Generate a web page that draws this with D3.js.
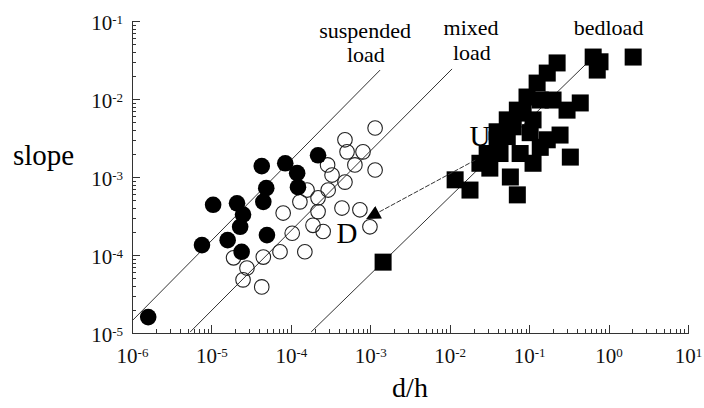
<!DOCTYPE html>
<html>
<head>
<meta charset="utf-8">
<script src="https://cdnjs.cloudflare.com/ajax/libs/d3/7.8.5/d3.min.js"></script>
<style>
  body { margin: 0; background: #fff; }
  svg, .axis { font-family: "Liberation Serif", "Times New Roman", serif; }
  .axis path, .axis line { stroke: #333; stroke-width: 1; shape-rendering: crispEdges; }
  .axis text { fill: #111; }
</style>
</head>
<body>
<script>
// data, [d/h, slope]
var suspendedPts = [
  [1.6e-6, 1.6e-5], [7.6e-6, 1.34e-4], [1.05e-5, 4.4e-4], [2.1e-5, 4.6e-4],
  [2.5e-5, 3.3e-4], [2.3e-5, 2.3e-4], [1.6e-5, 1.55e-4], [2.4e-5, 1.1e-4],
  [4.5e-5, 4.8e-4], [5.0e-5, 1.8e-4], [4.3e-5, 1.38e-3], [4.9e-5, 7.2e-4],
  [8.5e-5, 1.5e-3], [1.2e-4, 1.12e-3], [1.23e-4, 7.4e-4], [2.2e-4, 1.9e-3]
];
var mixedPts = [
  [1.15e-3, 4.25e-3], [1.15e-3, 1.23e-3], [4.8e-4, 3.0e-3], [5.1e-4, 2.1e-3],
  [8.1e-4, 2.1e-3], [2.9e-4, 1.43e-3], [3.3e-4, 1.06e-3], [4.8e-4, 8.6e-4],
  [2.95e-4, 6.8e-4], [2.2e-4, 5.4e-4], [1.3e-4, 4.8e-4], [8.0e-5, 3.45e-4],
  [4.4e-4, 4.0e-4], [7.4e-4, 3.8e-4], [1.04e-4, 1.9e-4], [7.3e-5, 1.1e-4],
  [1.9e-4, 2.4e-4], [2.55e-4, 2.0e-4], [1.5e-4, 1.1e-4], [1.9e-5, 9.2e-5],
  [2.8e-5, 6.8e-5], [2.5e-5, 4.8e-5], [4.3e-5, 3.9e-5], [9.9e-4, 2.3e-4],
  [1.6e-4, 6.8e-4], [4.5e-5, 9.4e-5], [2.2e-4, 3.6e-4], [6.4e-4, 1.43e-3]
];
var bedloadPts = [
  [1.45e-3, 8.1e-5], [1.17e-2, 9.2e-4], [1.8e-2, 6.8e-4], [2.4e-2, 1.5e-3],
  [2.96e-2, 2.0e-3], [3.95e-2, 3.0e-3], [3.95e-2, 3.8e-3], [5.3e-2, 5.4e-3],
  [7.1e-2, 7.2e-3], [9.4e-2, 1.06e-2], [0.126, 1.6e-2], [0.169, 2.15e-2],
  [0.225, 2.9e-2], [0.64, 3.45e-2], [0.72, 2.35e-2], [2.04, 3.45e-2],
  [0.44, 8.9e-3], [0.30, 7.2e-3], [0.20, 9.7e-3], [0.112, 5.4e-3],
  [6.3e-2, 4.4e-3], [0.245, 3.45e-3], [0.169, 3.0e-3], [0.138, 2.4e-3],
  [0.33, 1.8e-3], [0.112, 1.5e-3], [5.8e-2, 1.0e-3], [7.1e-2, 5.9e-4],
  [4.3e-2, 2.0e-3], [7.7e-2, 2.0e-3], [3.2e-2, 1.3e-3], [5.3e-2, 3.3e-3],
  [0.103, 3.7e-3], [8.4e-2, 6.6e-3], [0.138, 9.7e-3], [0.78, 3.0e-2]
];
// boundary lines, [start, end]
var boundaryLines = [
  [[1.03e-6, 1.47e-5], [1.33e-3, 2.35e-2]],
  [[5.4e-6, 1.03e-5], [1.07e-2, 2.43e-2]],
  [[1.8e-4, 1.03e-5], [0.64, 3.45e-2]]
];
var arrowPts = [[2.1e-2, 1.65e-3], [8.9e-4, 2.9e-4]];
var lineLabels = [
  {text: "suspended", x: 8.6e-4, y: 0.0605},
  {text: "load", x: 8.8e-4, y: 0.0298},
  {text: "mixed", x: 1.86e-2, y: 0.066},
  {text: "load", x: 1.9e-2, y: 0.0316},
  {text: "bedload", x: 1.0, y: 0.066}
];
var pointLabels = [
  {text: "U", x: 2.4e-2, y: 2.5e-3},
  {text: "D", x: 5.1e-4, y: 1.43e-4}
];
var xTickExp = [-6, -5, -4, -3, -2, -1, 0, 1];
var yTickExp = [-5, -4, -3, -2, -1];

var serif = '"Liberation Serif", "Times New Roman", serif';

var margin = {top: 21, right: 16, bottom: 75, left: 132}
  , width = 704 - margin.left - margin.right
  , height = 408 - margin.top - margin.bottom;

var xScale = d3.scaleLog().domain([1e-6, 10]).range([0, width]);
var yScale = d3.scaleLog().domain([1e-5, 0.1]).range([height, 0]);

var svg = d3.select("body").append("svg")
    .attr("width", width + margin.left + margin.right)
    .attr("height", height + margin.top + margin.bottom)
  .append("g")
    .attr("transform", "translate(" + margin.left + "," + margin.top + ")");

// minor ticks
svg.append("g")
    .attr("class", "x axis")
    .attr("transform", "translate(0," + height + ")")
    .call(d3.axisBottom(xScale).tickValues(xScale.ticks()).tickSize(-4).tickSizeOuter(0).tickFormat(""));
svg.append("g")
    .attr("class", "y axis")
    .call(d3.axisLeft(yScale).tickValues(yScale.ticks()).tickSize(-4).tickSizeOuter(0).tickFormat(""));

// major ticks + labels
var xAxis = svg.append("g")
    .attr("class", "x axis")
    .attr("transform", "translate(0," + height + ")")
    .call(d3.axisBottom(xScale).tickValues(xTickExp.map(function(e) { return Math.pow(10, e); }))
      .tickSize(-8).tickSizeOuter(0));
var yAxis = svg.append("g")
    .attr("class", "y axis")
    .call(d3.axisLeft(yScale).tickValues(yTickExp.map(function(e) { return Math.pow(10, e); }))
      .tickSize(-8).tickSizeOuter(0));

xAxis.attr("font-family", serif);
yAxis.attr("font-family", serif);

function powLabel(sel, exps) {
  sel.selectAll(".tick text").each(function(d, i) {
    var t = d3.select(this).text("")
      .style("font-family", serif)
      .style("font-size", "21px");
    t.append("tspan").text("10");
    t.append("tspan").attr("dy", "-0.45em").style("font-size", "13px").text(exps[i]);
  });
}
powLabel(xAxis, xTickExp);
powLabel(yAxis, yTickExp);
xAxis.selectAll(".tick text").attr("y", 30).attr("dy", null);
yAxis.selectAll(".tick text").attr("dy", "0.4em").attr("x", -9);

// boundary lines
var line = d3.line()
    .x(function(d) { return xScale(d[0]); })
    .y(function(d) { return yScale(d[1]); });

svg.append("g").selectAll("path")
    .data(boundaryLines)
  .enter().append("path")
    .attr("d", line)
    .attr("fill", "none")
    .attr("stroke", "#333")
    .attr("stroke-width", 1);

// points
svg.append("g").selectAll("circle")
    .data(mixedPts)
  .enter().append("circle")
    .attr("cx", function(d) { return xScale(d[0]); })
    .attr("cy", function(d) { return yScale(d[1]); })
    .attr("r", 7.3)
    .attr("fill", "none")
    .attr("stroke", "#222")
    .attr("stroke-width", 1.1);

svg.append("g").selectAll("circle")
    .data(suspendedPts)
  .enter().append("circle")
    .attr("cx", function(d) { return xScale(d[0]); })
    .attr("cy", function(d) { return yScale(d[1]); })
    .attr("r", 8.3)
    .attr("fill", "#000");

svg.append("g").selectAll("rect")
    .data(bedloadPts)
  .enter().append("rect")
    .attr("x", function(d) { return xScale(d[0]) - 8.5; })
    .attr("y", function(d) { return yScale(d[1]) - 8.5; })
    .attr("width", 17)
    .attr("height", 17)
    .attr("fill", "#000");

// arrow U -> D
svg.append("defs").append("marker")
    .attr("id", "head")
    .attr("viewBox", "0 0 10 10")
    .attr("refX", 10).attr("refY", 5)
    .attr("markerWidth", 16).attr("markerHeight", 14)
    .attr("markerUnits", "userSpaceOnUse")
    .attr("orient", "auto")
  .append("path")
    .attr("d", "M0,0L10,5L0,10z")
    .attr("fill", "#000");

svg.append("path")
    .attr("d", line(arrowPts))
    .attr("fill", "none")
    .attr("stroke", "#333")
    .attr("stroke-width", 1)
    .attr("stroke-dasharray", "5,1.5")
    .attr("marker-end", "url(#head)");

// text
svg.append("g").selectAll("text")
    .data(lineLabels)
  .enter().append("text")
    .attr("x", function(d) { return xScale(d.x); })
    .attr("y", function(d) { return yScale(d.y); })
    .style("text-anchor", "middle")
    .style("font-size", "22px")
    .text(function(d) { return d.text; });

svg.append("g").selectAll("text")
    .data(pointLabels)
  .enter().append("text")
    .attr("x", function(d) { return xScale(d.x); })
    .attr("y", function(d) { return yScale(d.y); })
    .style("text-anchor", "middle")
    .style("font-size", "29px")
    .text(function(d) { return d.text; });

svg.append("text")
    .attr("x", -margin.left + 13)
    .attr("y", 144)
    .style("font-size", "29px")
    .text("slope");

svg.append("text")
    .attr("transform", "translate(" + (width / 2) + "," + (height + 64) + ")")
    .style("text-anchor", "middle")
    .style("font-size", "28px")
    .text("d/h");
</script>
</body>
</html>
